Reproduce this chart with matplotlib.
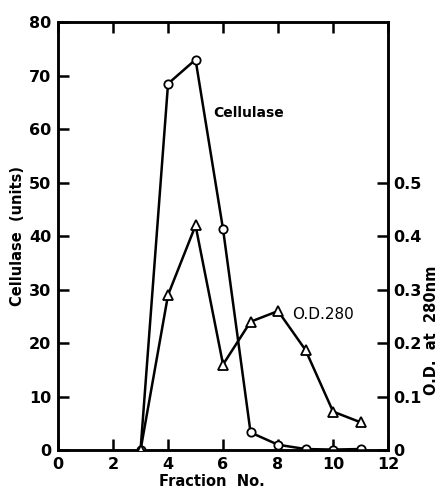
import matplotlib
matplotlib.use("Agg")
import matplotlib.pyplot as plt

fraction = [3, 4, 5, 6, 7, 8, 9, 10, 11]
cellulase = [0, 68.5, 73, 41.3, 3.3, 1.0, 0.2, 0.1, 0.2]
od280 = [0, 0.29, 0.42, 0.16, 0.24, 0.26, 0.187, 0.072, 0.052]
x_ticks = [0, 2, 4, 6, 8, 10, 12]
x_ticklabels = ["0", "2", "4", "6", "8", "10", "12"]
left_ticks = [0, 10, 20, 30, 40, 50, 60, 70, 80]
right_ticks = [0, 0.1, 0.2, 0.3, 0.4, 0.5]
right_ticklabels = ["0", "0.1", "0.2", "0.3", "0.4", "0.5"]

plt.rcParams['font.family'] = ['DejaVu Sans']
plt.rcParams['font.weight'] = 'bold'

fig = plt.figure(figsize=(4.43, 4.93), dpi=100)
ax = fig.add_axes([0.131, 0.087, 0.745, 0.868])
ax2 = ax.twinx()

ax.plot(fraction, cellulase, color='black', lw=1.8, marker='o', ms=6,
        mfc='white', mec='black', mew=1.3, zorder=3)
ax2.plot(fraction, od280, color='black', lw=1.8, marker='^', ms=7.5,
         mfc='white', mec='black', mew=1.3, zorder=3)

ax.set_xlim(0, 12)
ax.set_ylim(0, 80)
ax2.set_ylim(0, 0.8)

ax.set_xticks(x_ticks)
ax.set_xticklabels(x_ticklabels)
ax.set_yticks(left_ticks)
ax2.set_yticks(right_ticks)
ax2.set_yticklabels(right_ticklabels)

for a in (ax, ax2):
    for s in a.spines.values():
        s.set_linewidth(1.8)

ax.tick_params(axis='both', direction='in', length=8, width=1.8,
               labelsize=11.5, top=True, pad=5)
ax.tick_params(axis='x', top=True, labeltop=False)
ax2.tick_params(axis='y', direction='in', length=8, width=1.8,
                labelsize=11.5, pad=4)

fig.text(0.478, 0.008, "Fraction  No.", fontsize=10.5, fontweight='bold',
         ha='center', va='bottom')
ax.set_ylabel("Cellulase  (units)", fontsize=10.5, fontweight='bold', labelpad=3)
fig.text(0.975, 0.33, "O.D.  at  280nm", fontsize=10.5, fontweight='bold',
         ha='center', va='center', rotation=90)

ax.text(5.65, 63, "Cellulase", fontsize=10, fontweight='bold', va='center')
ax2.text(8.5, 0.253, "O.D.280", fontsize=11, fontweight='normal', va='center')

fig.savefig("out.png", dpi=100)
